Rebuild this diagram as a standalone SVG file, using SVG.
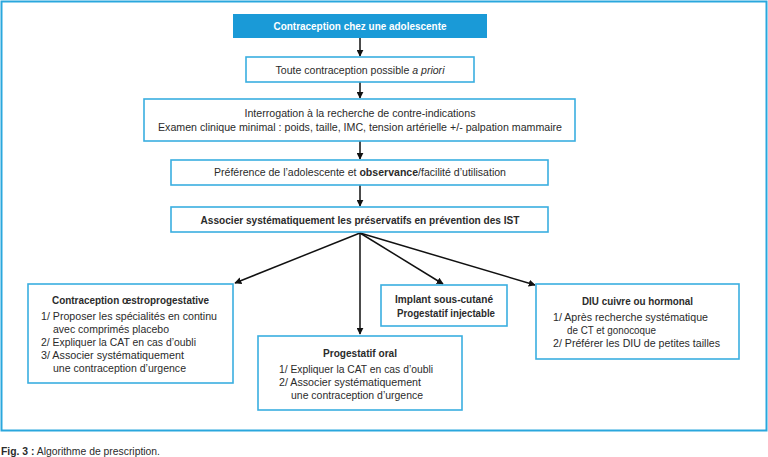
<svg xmlns="http://www.w3.org/2000/svg" width="768" height="457" viewBox="0 0 768 457">
<style>
.box{fill:#fff;stroke:#3aaee0;stroke-width:1.6}
.t{font-family:"Liberation Sans",Arial,sans-serif;font-size:10px;fill:#2b2b2b}
.s{font-size:10.5px}
.c{text-anchor:middle}
.b{font-weight:bold}
.cn{stroke:#111;stroke-width:1.5;fill:none;marker-end:url(#ah)}
</style>
<defs>
<marker id="ah" viewBox="0 0 10 10" refX="9" refY="5" markerWidth="7" markerHeight="7" markerUnits="userSpaceOnUse" orient="auto">
<path d="M0,0 L10,5 L0,10 z" fill="#111"/>
</marker>
</defs>
<rect x="0" y="0" width="768" height="457" fill="#fff"/>
<rect id="frame" x="1.5" y="1.5" width="765" height="429" fill="none" stroke="#2aa7dd" stroke-width="2"/>

<g id="connectors">
<line class="cn" x1="360" y1="38" x2="360" y2="56"/>
<line class="cn" x1="360" y1="82" x2="360" y2="98"/>
<line class="cn" x1="360" y1="141" x2="360" y2="159"/>
<line class="cn" x1="360" y1="185" x2="360" y2="206"/>
<line class="cn" x1="360" y1="233" x2="235" y2="283"/>
<line class="cn" x1="360" y1="233" x2="360" y2="334"/>
<line class="cn" x1="360" y1="233" x2="443" y2="284"/>
<line class="cn" x1="360" y1="233" x2="535" y2="285"/>
</g>

<g id="n1">
<rect x="233" y="14" width="254" height="24" fill="#1a9ad7"/>
<text class="t c b" x="360" y="30" style="fill:#fff" textLength="173" lengthAdjust="spacingAndGlyphs">Contraception chez une adolescente</text>
</g>
<g id="n2">
<rect class="box" x="246" y="57" width="228" height="25"/>
<text class="t c" x="360" y="73.5" textLength="169" lengthAdjust="spacingAndGlyphs">Toute contraception possible <tspan font-style="italic">a priori</tspan></text>
</g>
<g id="n3">
<rect class="box" x="144" y="99" width="431" height="42"/>
<text class="t c" x="360" y="117" textLength="231" lengthAdjust="spacingAndGlyphs">Interrogation à la recherche de contre-indications</text>
<text class="t c" x="360" y="131" textLength="404" lengthAdjust="spacingAndGlyphs">Examen clinique minimal : poids, taille, IMC, tension artérielle +/- palpation mammaire</text>
</g>
<g id="n4">
<rect class="box" x="171" y="160" width="377" height="25"/>
<text class="t c" x="360" y="176" textLength="292" lengthAdjust="spacingAndGlyphs">Préférence de l’adolescente et <tspan font-weight="bold">observance</tspan>/facilité d’utilisation</text>
</g>
<g id="n5">
<rect class="box" x="171" y="207" width="377" height="25"/>
<text class="t c b" x="360" y="223.5" textLength="319" lengthAdjust="spacingAndGlyphs">Associer systématiquement les préservatifs en prévention des IST</text>
</g>
<g id="n6">
<rect class="box" x="28" y="284" width="205" height="99"/>
<text class="t s c b" x="130.5" y="303.5" textLength="157" lengthAdjust="spacingAndGlyphs">Contraception œstroprogestative</text>
<text class="t s" x="41" y="319.5" textLength="176" lengthAdjust="spacingAndGlyphs">1/ Proposer les spécialités en continu</text>
<text class="t s" x="53" y="332.5" textLength="116" lengthAdjust="spacingAndGlyphs">avec comprimés placebo</text>
<text class="t s" x="41" y="345.5" textLength="155" lengthAdjust="spacingAndGlyphs">2/ Expliquer la CAT en cas d’oubli</text>
<text class="t s" x="41" y="358.5" textLength="143" lengthAdjust="spacingAndGlyphs">3/ Associer systématiquement</text>
<text class="t s" x="53" y="371.5" textLength="133" lengthAdjust="spacingAndGlyphs">une contraception d’urgence</text>
</g>
<g id="n7">
<rect class="box" x="258" y="336" width="204" height="74"/>
<text class="t s c b" x="360" y="356.5" textLength="74" lengthAdjust="spacingAndGlyphs">Progestatif oral</text>
<text class="t s" x="279" y="372.5" textLength="154" lengthAdjust="spacingAndGlyphs">1/ Expliquer la CAT en cas d’oubli</text>
<text class="t s" x="279" y="385.5" textLength="142" lengthAdjust="spacingAndGlyphs">2/ Associer systématiquement</text>
<text class="t s" x="291" y="398.5" textLength="132" lengthAdjust="spacingAndGlyphs">une contraception d’urgence</text>
</g>
<g id="n8">
<rect class="box" x="381" y="285" width="126" height="41"/>
<text class="t s c b" x="444" y="302.5" textLength="98" lengthAdjust="spacingAndGlyphs">Implant sous-cutané</text>
<text class="t s c b" x="446" y="316.5" textLength="98" lengthAdjust="spacingAndGlyphs">Progestatif injectable</text>
</g>
<g id="n9">
<rect class="box" x="536" y="284" width="203" height="75"/>
<text class="t s c b" x="637.5" y="304.5" textLength="111" lengthAdjust="spacingAndGlyphs">DIU cuivre ou hormonal</text>
<text class="t s" x="553" y="320.5" textLength="155" lengthAdjust="spacingAndGlyphs">1/ Après recherche systématique</text>
<text class="t s" x="567" y="333.5" textLength="89" lengthAdjust="spacingAndGlyphs">de CT et gonocoque</text>
<text class="t s" x="553" y="346.5" textLength="167" lengthAdjust="spacingAndGlyphs">2/ Préférer les DIU de petites tailles</text>
</g>
<text class="t" x="1" y="455" style="font-size:10px" textLength="159" lengthAdjust="spacingAndGlyphs"><tspan font-weight="bold">Fig. 3 :</tspan> Algorithme de prescription.</text>
</svg>
